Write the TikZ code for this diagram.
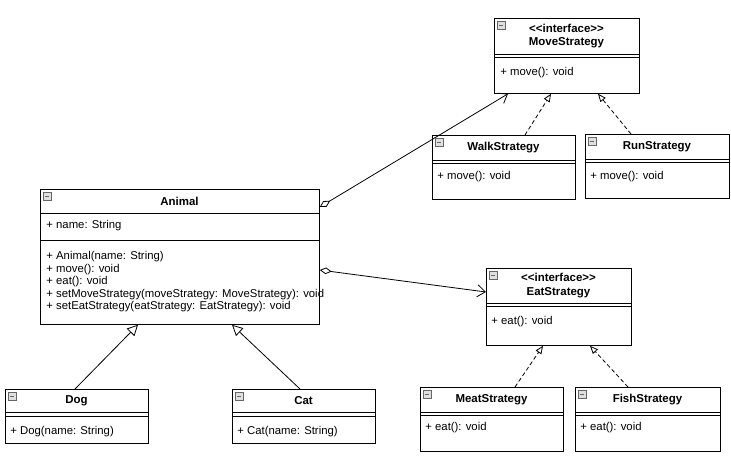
\documentclass[tikz,border=0pt]{standalone}
\usepackage{fontspec}
\setmainfont{Liberation Sans}
\usetikzlibrary{positioning,arrows.meta}

\begin{document}
\begin{tikzpicture}[x=0.75pt, y=-0.75pt, semithick, font=\fontsize{8.5}{9.4}\selectfont,
  box/.style = {draw, anchor=north west, inner sep=0pt},
  title/.style = {font=\fontsize{8.6}{10}\selectfont\bfseries, align=center},
  member/.style = {anchor=west, align=left, inner sep=0pt},
  icon/.style = {draw=gray!80!black, fill=gray!25, minimum size=6pt, inner sep=0pt, anchor=north west},
  realize/.style = {densely dashed, -{Triangle[open,length=6pt,width=5pt]}},
  inherit/.style = {-{Triangle[open,length=8pt,width=8pt]}},
  aggr/.style = {{Diamond[open,length=9pt,width=5pt]}-{Straight Barb[length=6pt,width=9pt]}}]
\useasboundingbox (0,0) rectangle (731,471);

% class boxes: #1 name, (#2,#3) top left, #4 width, #5 height, #6 header height, #7 title
\newcommand{\umlbox}[7]{%
  \node[box, minimum width=#4*0.75pt, minimum height=#5*0.75pt] (#1) at (#2,#3) {};
  \node[icon] at (#2+3,#3+3) {};
  \draw[gray!80!black, thin] (#2+5,#3+7) -- (#2+9,#3+7);
  \node[title] (#1-t) at (#2+#4/2,#3+#6/2) {#7};
  \draw (#2,#3+#6) -- (#2+#4,#3+#6);
}

\umlbox{move}{494}{18}{145}{75}{36}{{<}{<}interface{>}{>}\\MoveStrategy}
\draw (494,57) -- (639,57);
\node[member] (move-m) at (500,73) {+ move(): void};

\umlbox{walk}{432}{135}{143}{64}{25}{WalkStrategy}
\draw (432,163) -- (575,163);
\node[member] (walk-m) at (437,177) {+ move(): void};

\umlbox{run}{585}{134}{144}{64}{25}{RunStrategy}
\draw (585,162) -- (729,162);
\node[member] (run-m) at (590,177) {+ move(): void};

\umlbox{animal}{40}{189}{279}{135}{24}{Animal}
\draw (40,240) -- (319,240);
\node[member] (animal-a) at (46,226) {+ name: String};
\node[member, anchor=north west] (animal-m) at (46,251) {+ Animal(name: String)\\+ move(): void\\+ eat(): void\\+ setMoveStrategy(moveStrategy: MoveStrategy): void\\+ setEatStrategy(eatStrategy: EatStrategy): void};

\umlbox{eat}{486}{268}{145}{77}{35}{{<}{<}interface{>}{>}\\EatStrategy}
\draw (486,306) -- (631,306);
\node[member] (eat-m) at (491,322) {+ eat(): void};

\umlbox{meat}{420}{387}{143}{64}{25}{MeatStrategy}
\draw (420,415) -- (563,415);
\node[member] (meat-m) at (425,428) {+ eat(): void};

\umlbox{fish}{575}{387}{145}{64}{25}{FishStrategy}
\draw (575,415) -- (720,415);
\node[member] (fish-m) at (580,428) {+ eat(): void};

\umlbox{dog}{5}{389}{143}{54}{23}{Dog}
\draw (5,416) -- (148,416);
\node[member] (dog-m) at (10,432) {+ Dog(name: String)};

\umlbox{cat}{232}{389}{143}{54}{23}{Cat}
\draw (232,416) -- (375,416);
\node[member] (cat-m) at (237,432) {+ Cat(name: String)};

\draw[aggr] ([yshift=-18*0.75pt]animal.north east) -- ([xshift=14*0.75pt]move.south west);
\draw[aggr] ([yshift=-81*0.75pt]animal.north east) -- ([yshift=-24*0.75pt]eat.north west);
\draw[realize] ([xshift=93*0.75pt]walk.north west) -- ([xshift=57*0.75pt]move.south west);
\draw[realize] ([xshift=46*0.75pt]run.north west) -- ([xshift=104*0.75pt]move.south west);
\draw[realize] ([xshift=95*0.75pt]meat.north west) -- ([xshift=57*0.75pt]eat.south west);
\draw[realize] ([xshift=53*0.75pt]fish.north west) -- ([xshift=104*0.75pt]eat.south west);
\draw[inherit] ([xshift=70*0.75pt]dog.north west) -- ([xshift=98*0.75pt]animal.south west);
\draw[inherit] ([xshift=68*0.75pt]cat.north west) -- ([xshift=192*0.75pt]animal.south west);
\end{tikzpicture}
\end{document}
